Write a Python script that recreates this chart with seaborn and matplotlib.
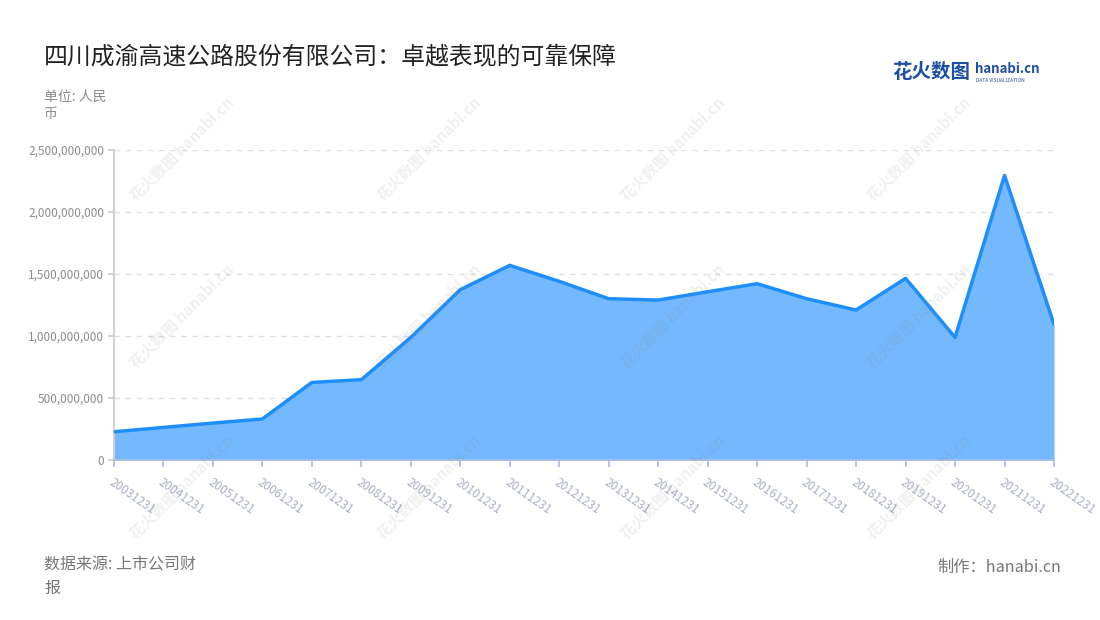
import numpy as np
import pandas as pd
import seaborn as sns
import matplotlib.pyplot as plt
from matplotlib.ticker import FuncFormatter

# ------------------------------------------------
# Data
# ------------------------------------------------
dates = ["20031231", "20041231", "20051231", "20061231", "20071231",
         "20081231", "20091231", "20101231", "20111231", "20121231",
         "20131231", "20141231", "20151231", "20161231", "20171231",
         "20181231", "20191231", "20201231", "20211231", "20221231"]
values = [0.228e9, 0.263e9, 0.298e9, 0.331e9, 0.626e9,
          0.648e9, 0.989e9, 1.374e9, 1.570e9, 1.441e9,
          1.301e9, 1.290e9, 1.357e9, 1.422e9, 1.301e9,
          1.210e9, 1.465e9, 0.989e9, 2.295e9, 1.094e9]
yticks = [0, 500e6, 1000e6, 1500e6, 2000e6, 2500e6]

title = "四川成渝高速公路股份有限公司：卓越表现的可靠保障"
unit_text = "单位: 人民\n币"
source_text = "数据来源: 上市公司财\n报"
credit_text = "制作：hanabi.cn"

# ------------------------------------------------
# Style
# ------------------------------------------------
sns.set_theme(style="white")
plt.rcParams['font.family'] = ['Noto Sans CJK SC', 'DejaVu Sans']

df = pd.DataFrame({"date": dates, "value": values})
df["pos"] = np.arange(len(df))

fig = plt.figure(figsize=(11, 6.2), dpi=100)
ax = fig.add_axes([0.1036, 0.258, 0.8546, 0.5])

ax.fill_between(df["pos"], df["value"], color="#74b9fd", zorder=2, lw=0)
sns.lineplot(data=df, x="pos", y="value", ax=ax, color="#1e8ffa",
             linewidth=2.5, zorder=3)

ax.set_xlim(0, len(dates) - 1)
ax.set_ylim(0, 2.5e9)
ax.set_yticks(yticks)
ax.yaxis.set_major_formatter(FuncFormatter(lambda v, p: f"{int(v):,}"))
ax.set_xticks(df["pos"])
ax.set_xticklabels(dates, rotation=-35, ha="left", va="top",
                   rotation_mode="anchor")
ax.set_xlabel("")
ax.set_ylabel("")
ax.patch.set_alpha(0)

ax.grid(axis="y", linestyle=(0, (4, 4)), color="#e0e0e0", linewidth=1)
ax.set_axisbelow(True)
for s in ["top", "right"]:
    ax.spines[s].set_visible(False)
ax.spines["left"].set_color("#cccccc")
ax.spines["bottom"].set_color("#a9bfe0")
ax.tick_params(axis="y", left=True, length=4, color="#cccccc",
               labelsize=8.5, labelcolor="#8c8c8c", pad=3)
ax.tick_params(axis="x", bottom=True, length=5, color="#a9bfe0",
               labelsize=8.5, labelcolor="#a8afc2", pad=6)

# watermarks, faint and on top
for wx in [0.165, 0.39, 0.612, 0.835]:
    for wy in [0.76, 0.49, 0.215]:
        fig.text(wx, wy, "花火数图 hanabi.cn", rotation=45, fontsize=11,
                 color="#808080", alpha=0.12, ha="center", va="center",
                 zorder=10, fontweight="bold")

# titles and notes
fig.text(0.04, 0.908, title, fontsize=17.2, color="#222222", va="center")
fig.text(0.04, 0.83, unit_text, fontsize=10, color="#8c8c8c", va="center",
         linespacing=1.35)
fig.text(0.04, 0.07, source_text, fontsize=11.5, color="#777777",
         va="center", linespacing=1.45)
fig.text(0.965, 0.085, credit_text, fontsize=11.7, color="#777777",
         ha="right", va="center")

# logo
fig.text(0.811, 0.883, "花火数图", fontsize=14, color="#1d4fa3",
         fontweight="bold", va="center")
fig.text(0.886, 0.889, "hanabi.cn", fontsize=9.5, color="#1d4fa3",
         fontweight="bold", va="center")
fig.text(0.887, 0.87, "DATA VISUALIZATION", fontsize=3.5, color="#1d4fa3",
         va="center")

plt.savefig("out.png", dpi=100)
plt.close(fig)
